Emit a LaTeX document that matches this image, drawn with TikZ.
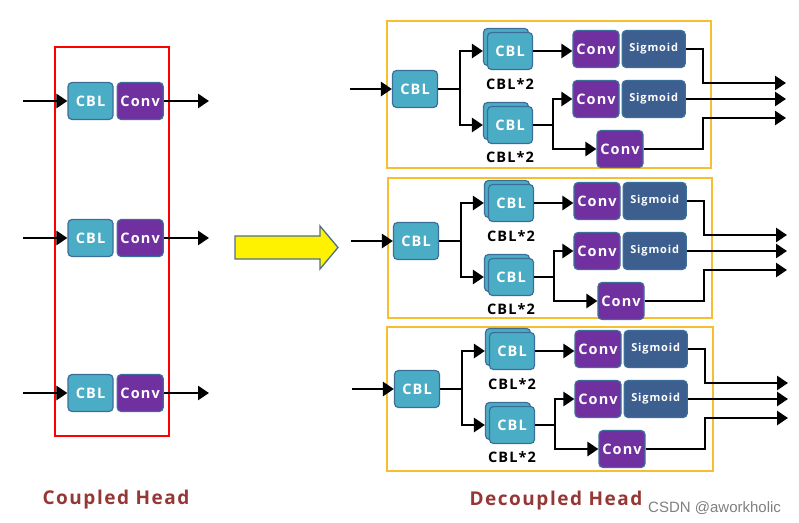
\documentclass[tikz,border=0pt]{standalone}
\usepackage{fontspec}
\setsansfont{Open Sans}
\newfontfamily\labfont[LetterSpace=8]{Open Sans}
\newfontfamily\wmfont{Liberation Sans}
\usetikzlibrary{positioning,arrows.meta}

\definecolor{cblblue}{HTML}{4BACC6}
\definecolor{boxedge}{HTML}{3C6E9A}
\definecolor{convpurple}{HTML}{7030A0}
\definecolor{sigblue}{HTML}{3D5F8F}
\definecolor{framegold}{HTML}{F7BF30}
\definecolor{headred}{HTML}{953735}
\definecolor{arrowedge}{HTML}{4F6F8F}

\tikzset{
  blk/.style={draw=boxedge, line width=1.2pt, rounded corners=4pt, minimum height=37pt,
    inner sep=0pt, text=white, font=\labfont\bfseries\fontsize{14.5}{14.5}\selectfont},
  cbl/.style={blk, fill=cblblue, minimum width=45pt},
  conv/.style={blk, fill=convpurple, minimum width=46pt},
  sig/.style={blk, fill=sigblue, minimum width=63pt, font=\labfont\bfseries\fontsize{11}{11}\selectfont},
  flow/.style={line width=2.8pt, -{Triangle[length=11pt,width=14pt]}},
  wire/.style={line width=2.8pt},
  tag/.style={font=\labfont\bfseries\fontsize{14.5}{14.5}\selectfont},
  headline/.style={font=\labfont\bfseries\fontsize{19}{19}\selectfont, text=headred, anchor=base},
}

\begin{document}
\begin{tikzpicture}[x=1pt, y=-1pt]

  % Canvas
  \fill[white] (0,0) rectangle (799,522);
  \useasboundingbox (0,0) rectangle (799,522);

  % Coupled head
  \draw[red, line width=1.6pt] (55,47) rectangle (169,436);
  \foreach \r/\y in {1/101, 2/238, 3/393} {
    \node[cbl] (lc\r) at (90.5,\y) {CBL};
    \node[conv, right=3pt of lc\r] (lv\r) {Conv};
    \coordinate (lin\r) at (23,\y);
    \coordinate (lout\r) at (209,\y);
    \draw[flow] (lin\r) -- (lc\r);
    \draw[flow] (lv\r) -- (lout\r);
  }

  % Big yellow arrow
  \draw[fill=yellow, draw=arrowedge, line width=1.3pt, line join=miter]
    (235,236) -- (320,236) -- (320,226) -- (338,247.5) -- (320,269) -- (320,259) -- (235,259) -- cycle;

  % Decoupled heads
  \foreach \p/\px/\py/\ft/\fb/\fl in {1/415/89/-68/79/-28, 2/416/241/-63/77/-28, 3/417/389/-62/82/-30} {
    \begin{scope}[shift={(\px,\py)}]
      \draw[framegold, line width=2pt] (\fl,\ft) rectangle (296,\fb);

      \node[cbl] (in\p) at (0,0) {CBL};
      \coordinate (src\p) at (-65,0);
      \draw[flow] (src\p) -- (in\p);

      % stacked CBLs
      \node[cbl] (ub\p) at (91,-42) {};
      \node[cbl] (ua\p) at (95,-38) {CBL};
      \node[tag] (uat\p) at (95,-5) {CBL*2};
      \node[cbl] (lb\p) at (91,32) {};
      \node[cbl] (la\p) at (95,36) {CBL};
      \node[tag] (lat\p) at (95,68) {CBL*2};

      % fork
      \coordinate (fk\p) at (45,0);
      \draw[wire] (in\p) -- (fk\p);
      \draw[flow] (fk\p) |- ([xshift=-4pt]ua\p.west);
      \draw[flow] (fk\p) |- ([xshift=-4pt]la\p.west);

      % branches
      \node[conv] (ca\p) at (181,-40) {Conv};
      \node[sig, right=2pt of ca\p] (sa\p) {Sigmoid};
      \node[conv] (cb\p) at (181,10) {Conv};
      \node[sig, right=2pt of cb\p] (sb\p) {Sigmoid};
      \node[conv] (cc\p) at (205,60) {Conv};

      \draw[flow] (ua\p.east) -- (ua\p.east -| ca\p.west);
      \coordinate (sp\p) at (138,36);
      \draw[wire] (la\p) -- (sp\p);
      \draw[flow] (sp\p) |- (cb\p);
      \draw[flow] (sp\p) |- (cc\p);

      % outputs
      \coordinate (ta\p) at (288,-6);
      \coordinate (oa\p) at (371,-6);
      \coordinate (ob\p) at (371,10);
      \coordinate (tc\p) at (288,29);
      \coordinate (oc\p) at (371,29);
      \draw[flow] (sa\p.east) -| (ta\p) -- (oa\p);
      \draw[flow] (sb\p) -- (ob\p);
      \draw[flow] (cc\p.east) -| (tc\p) -- (oc\p);
    \end{scope}
  }

  % Titles
  \node[headline] (coupled) at (116,504) {Coupled Head};
  \node[headline] (decoupled) at (556,505) {Decoupled Head};
  \node[anchor=base west, inner sep=0pt, text=gray, font=\wmfont\fontsize{15}{15}\selectfont] (mark) at (648,512) {CSDN @aworkholic};

\end{tikzpicture}
\end{document}
